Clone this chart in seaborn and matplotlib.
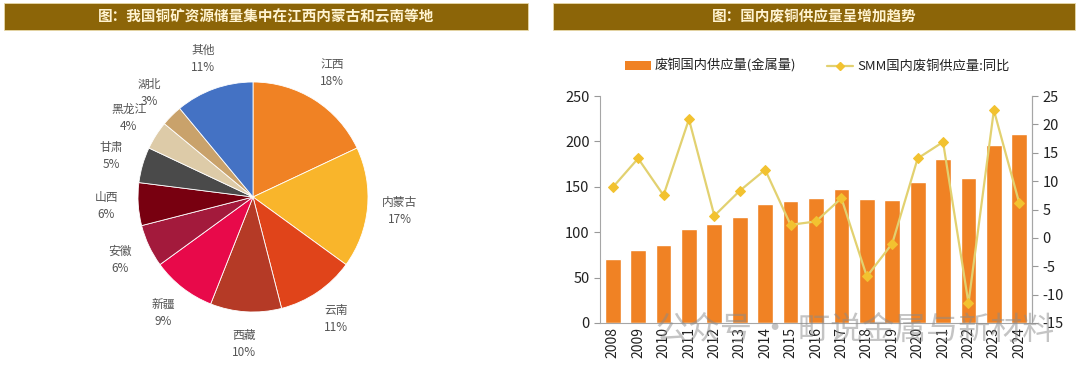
import numpy as np
import pandas as pd
import matplotlib
matplotlib.use("Agg")
import matplotlib.pyplot as plt
from matplotlib.patches import Rectangle, Patch
from matplotlib.lines import Line2D
import seaborn as sns

sns.set_theme(style="white")
plt.rcParams['font.family'] = ['Noto Sans CJK SC', 'DejaVu Sans']
plt.rcParams['axes.unicode_minus'] = False

# ---- data ----
provinces = ["江西", "内蒙古", "云南", "西藏", "新疆", "安徽", "山西", "甘肃", "黑龙江", "湖北", "其他"]
shares = [18, 17, 11, 10, 9, 6, 6, 5, 4, 3, 11]
pie_colors = ["#F08224", "#F9B52B", "#E0441A", "#B53A26", "#E8094A", "#A31A3C",
              "#780010", "#4A4A4A", "#DDCBA8", "#C9A26B", "#4472C4"]

years = [str(y) for y in range(2008, 2025)]
supply = [70, 80, 86, 104, 108.5, 117, 131, 134, 138, 148, 137, 136, 155, 181, 160, 196, 208]
yoy = [8.9, 14.0, 7.5, 20.9, 3.9, 8.3, 12.0, 2.3, 2.9, 7.0, -6.8, -1.0, 14.0, 16.9, -11.5, 22.5, 6.1]

left_title = "图：我国铜矿资源储量集中在江西内蒙古和云南等地"
right_title = "图：国内废铜供应量呈增加趋势"
bar_label = "废铜国内供应量(金属量)"
line_label = "SMM国内废铜供应量:同比"

W, H = 1080, 376
fig = plt.figure(figsize=(W / 100, H / 100), dpi=100)
fig.patch.set_facecolor("white")

def fx(px):
    return px / W

def fy(py):
    return 1 - py / H

# ---- title bars ----
bar_color = "#8C6508"
for (x0, x1, txt) in [(4, 528, left_title), (553, 1075, right_title)]:
    fig.patches.append(Rectangle((fx(x0), fy(30)), fx(x1 - x0), (27) / H,
                                 transform=fig.transFigure, facecolor=bar_color,
                                 edgecolor="#E8D9A8", linewidth=0.6, zorder=0))
    fig.text(fx((x0 + x1) / 2), fy(16.5), txt, ha="center", va="center",
             color="#FFF3D0", fontsize=10.5, fontweight="bold")

# ---- pie ----
R = 115
L = 1.5
S = 2 * L * R
cx, cy = 253, 197
axp = fig.add_axes([fx(cx - S / 2), fy(cy + S / 2), fx(S), S / H])
labels = [f"{p}\n{s}%" for p, s in zip(provinces, shares)]
wedges, texts = axp.pie(shares, colors=pie_colors, startangle=90, counterclock=False,
                        labels=labels, labeldistance=1.28,
                        wedgeprops=dict(edgecolor="white", linewidth=0.6),
                        textprops=dict(fontsize=8.5, color="#555555", linespacing=1.4))
for t in texts:
    t.set_ha("center")
    t.set_va("center")
axp.set_xlim(-L, L)
axp.set_ylim(-L, L)
axp.set_aspect("equal")
axp.axis("off")

# ---- bar + line ----
ax = fig.add_axes([fx(600), fy(323), fx(432), 227 / H])
df = pd.DataFrame({"year": years, "supply": supply, "yoy": yoy})
sns.barplot(data=df, x="year", y="supply", color="#F08224", saturation=1,
            width=0.62, ax=ax, zorder=2)
ax.set_xlim(-0.5, len(years) - 0.5)
ax.set_ylim(0, 250)
ax.set_yticks(range(0, 251, 50))
ax.set_xlabel("")
ax.set_ylabel("")
ax.tick_params(axis="x", rotation=90, labelsize=10, length=0, pad=3, colors="#222222")
ax.tick_params(axis="y", labelsize=10.5, length=4, width=0.8, colors="#222222", direction="out", color="#999999")
ax.set_xticks(np.arange(-0.5, len(years), 1), minor=True)
ax.tick_params(axis="x", which="minor", length=4, width=0.8, color="#999999", direction="out")
for sp in ["top"]:
    ax.spines[sp].set_visible(False)
for sp in ["left", "bottom", "right"]:
    ax.spines[sp].set_color("#A6A6A6")
    ax.spines[sp].set_linewidth(0.8)

line_color = "#E2D170"
marker_color = "#F2C230"
ax2 = ax.twinx()
sns.lineplot(x=np.arange(len(years)), y=yoy, ax=ax2, color=line_color, linewidth=1.6,
             marker="D", markersize=5.5, markerfacecolor=marker_color, markeredgecolor=marker_color,
             zorder=3)
ax2.set_ylim(-15, 25)
ax2.set_yticks(range(-15, 26, 5))
ax2.set_ylabel("")
ax2.tick_params(axis="y", labelsize=10.5, length=4, width=0.8, colors="#222222", direction="out", color="#999999")
for sp in ["top", "left", "bottom"]:
    ax2.spines[sp].set_visible(False)
ax2.spines["right"].set_color("#A6A6A6")
ax2.spines["right"].set_linewidth(0.8)
ax2.set_xlim(-0.5, len(years) - 0.5)

handles = [Patch(facecolor="#F08224", edgecolor="none"),
           Line2D([0], [0], color=line_color, linewidth=1.6, marker="D", markersize=4.5,
                  markerfacecolor=marker_color, markeredgecolor=marker_color)]
fig.legend(handles, [bar_label, line_label], loc="center", bbox_to_anchor=(fx(817), fy(66)),
           ncol=2, frameon=False, fontsize=9.5, handlelength=2.0, handleheight=0.6,
           columnspacing=2.3, handletextpad=0.3, labelcolor="#222222")

# ---- watermark ----
fig.text(fx(855), fy(330), "公众号 · 町说金属与新材料", ha="center", va="center",
         fontsize=23, color="#8A8A8A", alpha=0.5, zorder=10)

fig.savefig("out.png", dpi=100, facecolor="white")
